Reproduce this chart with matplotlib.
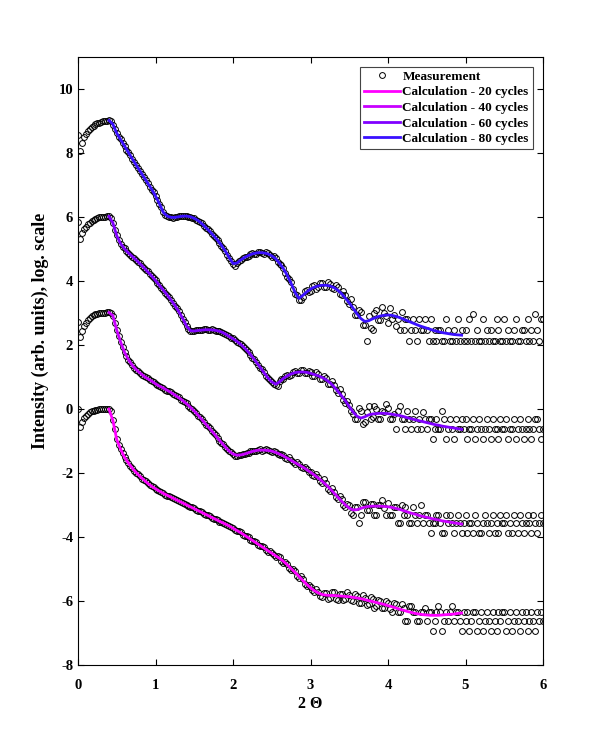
import numpy as np
import matplotlib
matplotlib.use("Agg")
import matplotlib.pyplot as plt

plt.rcParams['font.family'] = ['Liberation Serif', 'DejaVu Serif']
plt.rcParams['font.weight'] = 'bold'
plt.rcParams['axes.unicode_minus'] = False

# measured scan, 2 theta grid (step 0.025), one row = 0.5 deg
two_theta = np.round(np.arange(0, 6.0001, 0.025), 3)

meas_80 = [8.55, 8.05, 8.30, 8.50, 8.60, 8.68, 8.75, 8.81, 8.86, 8.90, 8.93, 8.95, 8.97, 8.99, 9.00, 9.01, 9.02, 9.00, 8.88, 8.74,
           8.63, 8.51, 8.43, 8.31, 8.23, 8.11, 8.02, 7.93, 7.81, 7.73, 7.62, 7.54, 7.45, 7.33, 7.24, 7.16, 7.07, 6.95, 6.86, 6.78,
           6.67, 6.54, 6.41, 6.30, 6.16, 6.06, 6.02, 6.00, 6.00, 5.98, 5.99, 6.01, 6.02, 6.03, 6.04, 6.02, 6.03, 6.01, 6.00, 5.98,
           5.97, 5.92, 5.88, 5.85, 5.80, 5.72, 5.66, 5.62, 5.56, 5.48, 5.41, 5.36, 5.29, 5.19, 5.11, 5.04, 4.95, 4.83, 4.73, 4.64,
           4.52, 4.48, 4.58, 4.63, 4.65, 4.72, 4.76, 4.75, 4.79, 4.85, 4.87, 4.84, 4.86, 4.92, 4.92, 4.87, 4.86, 4.90, 4.87, 4.80,
           4.76, 4.78, 4.72, 4.60, 4.52, 4.50, 4.42, 4.26, 4.14, 4.08, 3.96, 3.75, 3.60, 3.55, 3.42, 3.40, 3.50, 3.68, 3.72, 3.66,
           3.70, 3.85, 3.88, 3.76, 3.80, 3.95, 3.95, 3.82, 3.82, 3.98, 3.92, 3.78, 3.75, 3.88, 3.80, 3.60, 3.55, 3.68, 3.55, 3.38,
           3.30, 3.45, 3.20, 2.95, 2.95, 3.10, 3.05, 2.62, 2.62, 2.12, 2.90, 2.55, 2.47, 3.00, 3.10, 2.80, 2.80, 3.20, 3.00, 2.90,
           2.70, 3.15, 2.83, 2.95, 2.60, 2.83, 2.47, 3.05, 2.47, 2.83, 2.83, 2.12, 2.47, 2.83, 2.47, 2.12, 2.83, 2.47, 2.47, 2.83,
           2.47, 2.12, 2.83, 2.12, 2.47, 2.12, 2.47, 2.47, 2.12, 2.12, 2.83, 2.47, 2.12, 2.12, 2.47, 2.12, 2.83, 2.12, 2.47, 2.12,
           2.47, 2.12, 2.83, 2.12, 2.98, 2.12, 2.47, 2.12, 2.12, 2.83, 2.12, 2.47, 2.12, 2.47, 2.12, 2.12, 2.83, 2.47, 2.12, 2.12,
           2.83, 2.12, 2.47, 2.12, 2.12, 2.47, 2.83, 2.12, 2.12, 2.47, 2.47, 2.12, 2.83, 2.12, 2.47, 2.12, 2.98, 2.47, 2.12, 2.83,
           2.83]

meas_60 = [5.85, 5.30, 5.50, 5.62, 5.70, 5.77, 5.83, 5.88, 5.92, 5.95, 5.97, 5.99, 6.00, 6.01, 6.01, 6.02, 6.02, 5.98, 5.83, 5.60,
           5.43, 5.29, 5.16, 5.08, 5.02, 4.93, 4.89, 4.81, 4.76, 4.72, 4.65, 4.61, 4.55, 4.47, 4.41, 4.36, 4.30, 4.21, 4.15, 4.10,
           4.03, 3.94, 3.88, 3.79, 3.73, 3.64, 3.56, 3.50, 3.42, 3.32, 3.23, 3.16, 3.06, 2.94, 2.83, 2.73, 2.61, 2.50, 2.44, 2.45,
           2.43, 2.46, 2.47, 2.46, 2.46, 2.49, 2.49, 2.47, 2.47, 2.49, 2.48, 2.45, 2.44, 2.44, 2.42, 2.37, 2.34, 2.32, 2.28, 2.23,
           2.21, 2.15, 2.11, 2.08, 2.03, 1.96, 1.90, 1.86, 1.79, 1.70, 1.61, 1.56, 1.48, 1.38, 1.29, 1.24, 1.15, 1.05, 0.96, 0.92,
           0.84, 0.78, 0.74, 0.72, 0.88, 0.93, 0.94, 1.02, 1.08, 1.05, 1.07, 1.15, 1.18, 1.12, 1.13, 1.22, 1.22, 1.14, 1.12, 1.18,
           1.15, 1.04, 1.05, 1.16, 1.10, 0.95, 0.95, 1.05, 0.97, 0.80, 0.78, 0.88, 0.76, 0.60, 0.50, 0.62, 0.48, 0.30, 0.20, 0.25,
           0.12, -0.05, -0.15, -0.30, -0.30, 0.05, -0.05, -0.45, -0.40, -0.10, 0.10, -0.30, -0.25, 0.10, 0.02, -0.30, -0.30, -0.05, -0.10, 0.15,
           0.05, -0.30, -0.30, -0.15, -0.62, -0.05, 0.10, -0.30, -0.30, -0.62, -0.05, -0.30, -0.62, -0.30, -0.05, -0.62, -0.30, -0.62, -0.10, -0.30,
           -0.62, -0.30, -0.30, -0.94, -0.62, -0.30, -0.62, -0.62, -0.05, -0.30, -0.94, -0.62, -0.30, -0.62, -0.94, -0.30, -0.62, -0.62, -0.30, -0.62,
           -0.30, -0.94, -0.62, -0.62, -0.30, -0.94, -0.62, -0.30, -0.62, -0.94, -0.62, -0.30, -0.62, -0.94, -0.30, -0.62, -0.62, -0.94, -0.30, -0.62,
           -0.62, -0.30, -0.94, -0.62, -0.62, -0.30, -0.94, -0.62, -0.30, -0.62, -0.94, -0.62, -0.30, -0.62, -0.94, -0.62, -0.30, -0.30, -0.62, -0.94,
           -0.62]

meas_40 = [2.73, 2.26, 2.45, 2.60, 2.70, 2.78, 2.85, 2.90, 2.93, 2.96, 2.98, 2.99, 3.00, 3.01, 3.01, 3.02, 3.02, 3.00, 2.92, 2.70,
           2.48, 2.27, 2.09, 1.94, 1.79, 1.65, 1.54, 1.47, 1.38, 1.29, 1.23, 1.19, 1.14, 1.07, 1.02, 1.00, 0.96, 0.90, 0.87, 0.85,
           0.80, 0.74, 0.71, 0.70, 0.67, 0.61, 0.58, 0.56, 0.53, 0.47, 0.43, 0.41, 0.37, 0.30, 0.26, 0.23, 0.18, 0.10, 0.05, 0.01,
           -0.05, -0.13, -0.20, -0.25, -0.32, -0.41, -0.48, -0.53, -0.60, -0.69, -0.76, -0.81, -0.89, -0.98, -1.05, -1.10, -1.17, -1.26, -1.32, -1.35,
           -1.41, -1.45, -1.46, -1.42, -1.42, -1.40, -1.39, -1.37, -1.37, -1.32, -1.30, -1.31, -1.30, -1.27, -1.26, -1.30, -1.29, -1.25, -1.27, -1.32,
           -1.33, -1.30, -1.33, -1.40, -1.43, -1.39, -1.44, -1.52, -1.56, -1.50, -1.58, -1.66, -1.70, -1.65, -1.72, -1.82, -1.84, -1.80, -1.86, -1.96,
           -1.95, -2.05, -2.10, -2.02, -2.12, -2.25, -2.30, -2.18, -2.32, -2.50, -2.55, -2.45, -2.58, -2.75, -2.80, -2.70, -2.82, -3.00, -3.05, -2.95,
           -3.00, -3.25, -3.30, -3.05, -3.05, -3.57, -3.30, -2.90, -2.90, -3.15, -3.15, -2.95, -2.95, -3.30, -3.30, -3.00, -3.00, -2.85, -3.10, -3.30,
           -2.92, -3.30, -3.30, -3.05, -3.05, -3.57, -3.57, -2.98, -3.30, -3.05, -3.30, -3.57, -3.57, -3.05, -3.30, -3.57, -3.30, -2.98, -3.57, -3.30,
           -3.30, -3.57, -3.88, -3.57, -3.57, -3.30, -3.30, -3.57, -3.88, -3.88, -3.30, -3.57, -3.30, -3.57, -3.88, -3.57, -3.30, -3.57, -3.88, -3.57,
           -3.30, -3.88, -3.57, -3.57, -3.88, -3.30, -3.57, -3.88, -3.88, -3.57, -3.30, -3.57, -3.88, -3.57, -3.30, -3.88, -3.57, -3.88, -3.30, -3.57,
           -3.57, -3.30, -3.88, -3.57, -3.88, -3.30, -3.57, -3.88, -3.30, -3.57, -3.88, -3.57, -3.30, -3.57, -3.88, -3.30, -3.57, -3.88, -3.57, -3.30,
           -3.57]

meas_20 = [0.00, -0.55, -0.40, -0.28, -0.20, -0.14, -0.10, -0.07, -0.05, -0.03, -0.02, -0.01, 0.00, 0.00, 0.01, 0.01, 0.01, -0.05, -0.33, -0.62,
           -0.94, -1.11, -1.26, -1.37, -1.50, -1.58, -1.68, -1.77, -1.83, -1.92, -1.99, -2.03, -2.10, -2.17, -2.21, -2.26, -2.32, -2.38, -2.41, -2.44,
           -2.48, -2.53, -2.57, -2.58, -2.62, -2.67, -2.70, -2.71, -2.74, -2.79, -2.82, -2.83, -2.86, -2.91, -2.94, -2.95, -2.98, -3.03, -3.06, -3.07,
           -3.10, -3.15, -3.18, -3.19, -3.22, -3.27, -3.30, -3.31, -3.34, -3.39, -3.42, -3.43, -3.46, -3.51, -3.54, -3.55, -3.58, -3.63, -3.66, -3.67,
           -3.71, -3.76, -3.80, -3.82, -3.85, -3.92, -3.96, -3.97, -4.00, -4.08, -4.12, -4.13, -4.16, -4.24, -4.29, -4.28, -4.32, -4.40, -4.45, -4.44,
           -4.48, -4.56, -4.62, -4.60, -4.63, -4.74, -4.80, -4.76, -4.83, -4.95, -5.02, -5.00, -5.06, -5.20, -5.28, -5.22, -5.30, -5.46, -5.52, -5.48,
           -5.55, -5.65, -5.72, -5.62, -5.70, -5.85, -5.88, -5.75, -5.75, -5.92, -5.90, -5.72, -5.72, -5.92, -5.95, -5.78, -5.78, -5.95, -5.92, -5.72,
           -5.80, -5.95, -6.00, -5.78, -5.85, -6.05, -6.05, -5.82, -5.90, -6.12, -6.10, -5.88, -5.92, -6.20, -6.15, -5.95, -6.00, -6.20, -6.20, -6.00,
           -6.05, -6.25, -6.33, -6.05, -6.10, -6.33, -6.33, -6.10, -6.20, -6.62, -6.62, -6.15, -6.15, -6.33, -6.33, -6.62, -6.62, -6.33, -6.33, -6.20,
           -6.62, -6.33, -6.33, -6.93, -6.62, -6.33, -6.15, -6.33, -6.93, -6.62, -6.33, -6.62, -6.33, -6.15, -6.62, -6.33, -6.33, -6.62, -6.93, -6.33,
           -6.62, -6.33, -6.93, -6.62, -6.33, -6.33, -6.93, -6.62, -6.33, -6.93, -6.62, -6.33, -6.62, -6.93, -6.33, -6.62, -6.93, -6.33, -6.62, -6.33,
           -6.33, -6.93, -6.62, -6.33, -6.93, -6.62, -6.33, -6.62, -6.93, -6.33, -6.62, -6.33, -6.93, -6.62, -6.33, -6.62, -6.93, -6.33, -6.62, -6.33,
           -6.62]

# simulated curves, from the critical angle up to ~5 deg
two_theta_calc = np.round(np.arange(0.40, 4.951, 0.05), 2)

calc_80 = [9.02, 8.90,
           8.62, 8.42, 8.22, 8.02, 7.82, 7.63, 7.44, 7.25, 7.06, 6.87,
           6.66, 6.42, 6.15, 6.03, 5.99, 5.99, 6.01, 6.03, 6.03, 6.01,
           5.96, 5.89, 5.79, 5.67, 5.55, 5.42, 5.28, 5.12, 4.94, 4.74,
           4.55, 4.56, 4.66, 4.74, 4.80, 4.85, 4.88, 4.89, 4.88, 4.85,
           4.79, 4.70, 4.56, 4.39, 4.18, 3.93, 3.65, 3.46, 3.55, 3.66,
           3.75, 3.81, 3.85, 3.87, 3.87, 3.85, 3.80, 3.72, 3.61, 3.47,
           3.32, 3.15, 2.98, 2.83, 2.74, 2.76, 2.82, 2.87, 2.91, 2.93,
           2.94, 2.93, 2.90, 2.86, 2.81, 2.76, 2.71, 2.66, 2.61, 2.57,
           2.53, 2.49, 2.45, 2.42, 2.39, 2.37, 2.35, 2.33, 2.32, 2.31]

calc_60 = [6.02, 5.82,
           5.42, 5.17, 5.01, 4.88, 4.77, 4.66, 4.54, 4.42, 4.29, 4.16,
           4.02, 3.87, 3.72, 3.57, 3.41, 3.24, 3.05, 2.84, 2.60, 2.45,
           2.44, 2.46, 2.47, 2.48, 2.48, 2.47, 2.45, 2.41, 2.35, 2.27,
           2.20, 2.12, 2.02, 1.91, 1.78, 1.63, 1.47, 1.31, 1.14, 0.98,
           0.85, 0.78, 0.85, 0.96, 1.04, 1.10, 1.14, 1.16, 1.16, 1.15,
           1.12, 1.08, 1.04, 0.99, 0.92, 0.83, 0.71, 0.57, 0.42, 0.26,
           0.08, -0.09, -0.22, -0.28, -0.24, -0.18, -0.15, -0.14, -0.13, -0.13,
           -0.14, -0.16, -0.18, -0.20, -0.23, -0.27, -0.30, -0.33, -0.36, -0.39,
           -0.42, -0.45, -0.48, -0.50, -0.53, -0.55, -0.57, -0.59, -0.61, -0.63]

calc_40 = [3.02, 2.92,
           2.47, 2.10, 1.78, 1.55, 1.37, 1.24, 1.13, 1.03, 0.95, 0.88,
           0.79, 0.72, 0.66, 0.59, 0.52, 0.44, 0.36, 0.27, 0.17, 0.06,
           -0.06, -0.19, -0.33, -0.47, -0.61, -0.75, -0.90, -1.04, -1.18, -1.31,
           -1.40, -1.44, -1.43, -1.40, -1.36, -1.32, -1.29, -1.28, -1.28, -1.29,
           -1.31, -1.35, -1.40, -1.46, -1.53, -1.60, -1.67, -1.74, -1.81, -1.89,
           -1.97, -2.06, -2.15, -2.25, -2.36, -2.48, -2.61, -2.74, -2.87, -2.99,
           -3.09, -3.15, -3.14, -3.10, -3.06, -3.04, -3.03, -3.03, -3.03, -3.04,
           -3.05, -3.07, -3.10, -3.13, -3.17, -3.21, -3.25, -3.28, -3.32, -3.35,
           -3.38, -3.41, -3.44, -3.46, -3.49, -3.51, -3.53, -3.55, -3.57, -3.59]

calc_20 = [0.00, -0.35,
           -0.95, -1.25, -1.50, -1.68, -1.84, -1.98, -2.10, -2.21, -2.32, -2.41,
           -2.49, -2.56, -2.63, -2.69, -2.75, -2.81, -2.87, -2.93, -2.99, -3.05,
           -3.11, -3.17, -3.23, -3.29, -3.35, -3.41, -3.47, -3.53, -3.59, -3.65,
           -3.72, -3.79, -3.86, -3.94, -4.02, -4.10, -4.18, -4.26, -4.34, -4.42,
           -4.50, -4.58, -4.66, -4.75, -4.86, -4.98, -5.10, -5.22, -5.35, -5.47,
           -5.58, -5.67, -5.74, -5.79, -5.81, -5.82, -5.82, -5.83, -5.84, -5.85,
           -5.86, -5.88, -5.90, -5.92, -5.95, -5.98, -6.01, -6.04, -6.07, -6.10,
           -6.14, -6.17, -6.21, -6.25, -6.28, -6.32, -6.35, -6.38, -6.40, -6.42,
           -6.43, -6.44, -6.44, -6.44, -6.43, -6.42, -6.41, -6.40, -6.38, -6.37]

cycles = [20, 40, 60, 80]
calc_colors = ['#ff00ff', '#c800ff', '#8000ff', '#3a10ff']

fig = plt.figure(figsize=(6, 7.5), dpi=100)
ax = fig.add_axes([0.13, 0.113, 0.775, 0.811])

first = True
for m in [meas_80, meas_60, meas_40, meas_20]:
    ax.plot(two_theta, m, 'o', mfc='none', mec='black', ms=4.2, mew=0.7,
            zorder=2, label='Measurement' if first else None)
    first = False

for n, c, col in zip(cycles, [calc_20, calc_40, calc_60, calc_80], calc_colors):
    ax.plot(two_theta_calc, c, '-', color=col, lw=2.0, zorder=3,
            label='Calculation - %d cycles' % n)

ax.set_xlim(0, 6)
ax.set_ylim(-8, 11)
ax.set_xticks(range(0, 7))
ax.set_yticks(range(-8, 11, 2))
ax.tick_params(direction='in', top=True, right=True, length=4, labelsize=10.5)
ax.tick_params(axis='x', pad=10)
for s in ax.spines.values():
    s.set_linewidth(0.8)

ax.set_xlabel('2 \u0398', fontsize=11.5, fontweight='bold', labelpad=3)
ax.set_ylabel('Intensity (arb. units), log. scale', fontsize=13, fontweight='bold')
ax.yaxis.set_label_coords(-0.063, 0.55)

leg = ax.legend(loc='upper right', bbox_to_anchor=(0.978, 0.984), borderaxespad=0,
                fancybox=False, framealpha=1, edgecolor='#444444',
                prop={'weight': 'bold', 'size': 9.5}, handlelength=2.7,
                handletextpad=0.2, labelspacing=0.25, borderpad=0.3)
leg.get_frame().set_linewidth(0.8)

fig.savefig('out.png', dpi=100)
